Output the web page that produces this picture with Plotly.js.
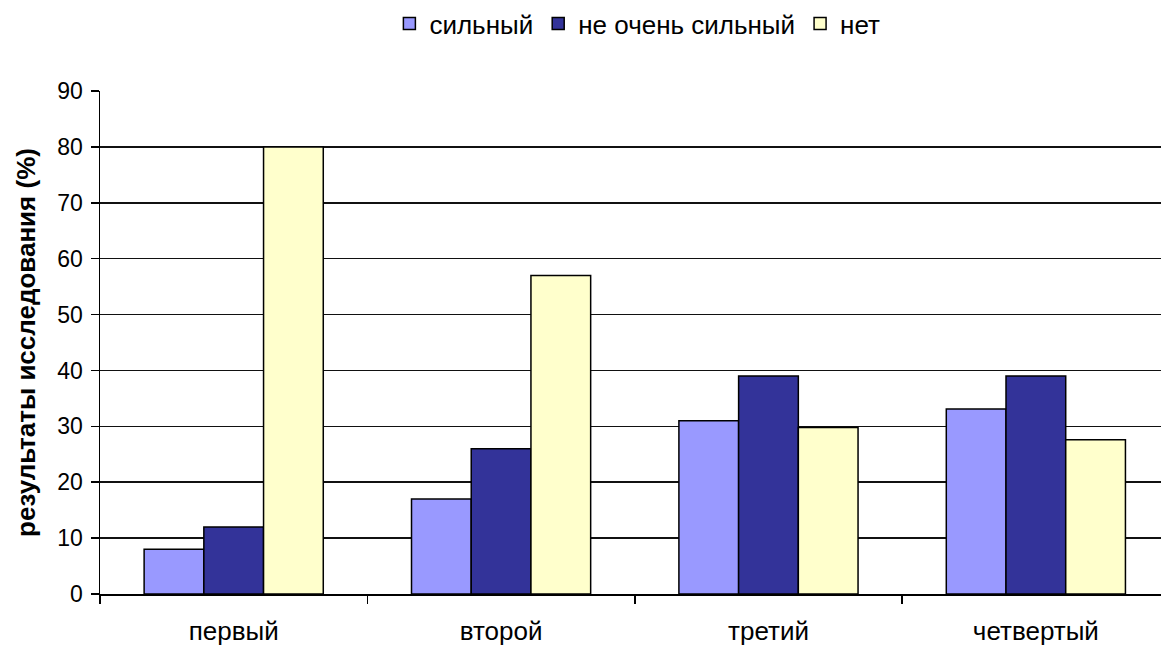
<!DOCTYPE html>
<html><head><meta charset="utf-8">
<script src="https://cdn.plot.ly/plotly-3.0.1.min.js"></script>
<style>html,body{margin:0;padding:0;background:#fff}#chart{width:1161px;height:648px}</style>
</head><body><div id="chart"></div>
<script>
const categories = ["первый", "второй", "третий", "четвертый"];
const seriesNames = ["сильный", "не очень сильный", "нет"];
const strong = [8, 17, 31, 33.1];
const notVeryStrong = [12, 26, 39, 39];
const none = [80, 57, 29.8, 27.6];
const yTicks = [0, 10, 20, 30, 40, 50, 60, 70, 80, 90];

const colors = ["#9999FF", "#333399", "#FFFFCC"];
const values = [strong, notVeryStrong, none];
const traces = values.map((v, i) => ({
  type: "bar", name: seriesNames[i], x: categories, y: v,
  marker: {color: colors[i], line: {color: "#000", width: 1.5}},
  hoverinfo: "skip"
}));

const layout = {
  width: 1161, height: 648,
  margin: {l: 100, r: 0, t: 91, b: 54},
  paper_bgcolor: "#fff", plot_bgcolor: "#fff",
  font: {family: "Liberation Sans, Arial, sans-serif", size: 22, color: "#000"},
  barmode: "group", bargap: 0.33, bargroupgap: 0,
  showlegend: true,
  legend: {orientation: "h", xref: "container", yref: "container", x: 0.549, xanchor: "center", y: 1, yanchor: "top",
           font: {size: 26}, itemwidth: 30, tracegroupgap: 0, traceorder: "normal"},
  xaxis: {type: "category", range: [-0.5, 3.468], showline: true, linecolor: "#000", linewidth: 1.5,
          ticks: "outside", tickson: "boundaries", ticklen: 8, tickcolor: "#000", tickwidth: 1.5,
          showgrid: false, tickfont: {size: 26}, ticklabelstandoff: 13, fixedrange: true},
  yaxis: {range: [0, 90], tickvals: yTicks, showline: true, linecolor: "#000", linewidth: 1.5,
          ticks: "outside", ticklen: 8, tickcolor: "#000", tickwidth: 1.5,
          showgrid: true, gridcolor: "#111", gridwidth: 1.5, zeroline: false,
          tickfont: {size: 23}, ticklabelstandoff: 3,
          title: {text: "<b>результаты исследования (%)</b>", font: {size: 26}, standoff: 14}}
};
Plotly.newPlot("chart", traces, layout, {displayModeBar: false, staticPlot: true});
</script></body></html>
